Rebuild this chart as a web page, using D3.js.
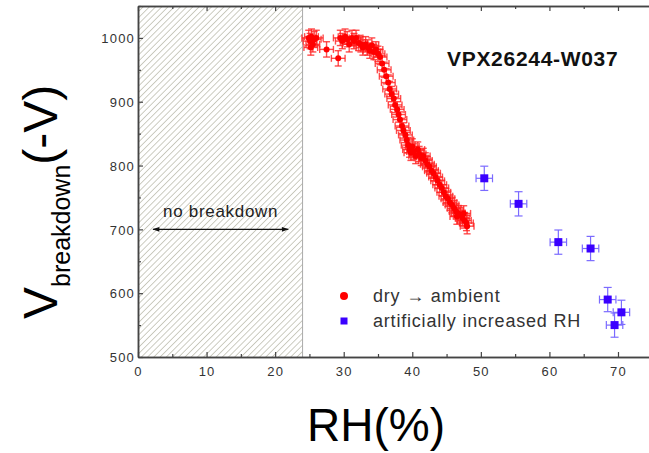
<!DOCTYPE html>
<html><head><meta charset="utf-8">
<script src="https://cdn.jsdelivr.net/npm/d3@7"></script>
<style>
html,body{margin:0;padding:0;background:#fff;}
svg{display:block;font-family:"Liberation Sans",Arial,sans-serif;}
</style></head>
<body>
<svg id="chart" width="649" height="453"></svg>
<script>
// ---- data ----
const xTicks = [0, 10, 20, 30, 40, 50, 60, 70];
const yTicks = [500, 600, 700, 800, 900, 1000];
const xMinorTicks = [5, 15, 25, 35, 45, 55, 65, 75];
const yMinorTicks = [550, 650, 750, 850, 950, 1050];

const redRH = [24.9,25.1,25.3,25.5,25.7,26.0,25.2,27.5,29.2,
  29.5,29.8,30.2,30.5,30.8,31.2,31.5,31.8,32.2,32.5,32.8,33.2,33.5,33.8,34.1,34.4,34.7,35.0,35.3,35.6,
  35.9,36.2,36.5,36.7,37.0,37.3,37.5,37.8,38.0,38.2,38.5,38.7,39.0,39.2,39.4,39.6,39.8,40.0,40.2,40.5,
  40.8,41.0,41.3,41.6,41.9,42.2,42.5,42.8,43.1,43.4,43.7,44.0,44.3,44.6,44.9,45.2,45.5,45.8,46.1,46.4,
  46.7,47.0,47.3,47.6,47.9,48.0,46.5,47.5];
const redV = [1000,995,1002,990,998,1000,985,982,968,
  1000,995,1002,998,990,1000,995,1000,992,990,985,990,985,980,988,978,982,975,970,960,
  950,940,930,920,912,905,895,888,880,872,862,855,848,840,832,825,820,830,822,815,
  825,818,812,815,808,802,798,792,788,782,776,770,765,758,752,748,742,738,733,728,
  725,722,718,714,710,705,720,725];
const redErrRH = 1.0, redErrV = 12;

const blueRH = [50.5, 55.5, 61.3, 66.0, 68.5, 70.5, 69.5];
const blueV  = [780, 740, 680, 670, 590, 570, 550];
const blueErrRH = 1.2, blueErrV = 19;

const hatchFrom = 0, hatchTo = 24;
const arrowFrom = 2.2, arrowTo = 21.9, arrowV = 700;

// ---- layout ----
const svg = d3.select("#chart");
const L = 138, T = 6, B = 357;
const x = d3.scaleLinear().domain([0, 75]).range([L, L + 75 * 6.857]);
const y = d3.scaleLinear().domain([500, 1050]).range([B, T]);

const defs = svg.append("defs");
const pat = defs.append("pattern").attr("id", "hatch").attr("patternUnits", "userSpaceOnUse")
  .attr("width", 4.4).attr("height", 4.4).attr("patternTransform", "rotate(45)");
pat.append("rect").attr("width", 4.4).attr("height", 4.4).attr("fill", "#fff");
pat.append("line").attr("x1", 0).attr("y1", 0).attr("x2", 0).attr("y2", 4.4)
  .attr("stroke", "#bcbcae").attr("stroke-width", 1.5);

defs.append("marker").attr("id", "ah").attr("viewBox", "0 0 10 10").attr("refX", 9).attr("refY", 5)
  .attr("markerWidth", 9).attr("markerHeight", 7).attr("markerUnits", "userSpaceOnUse")
  .attr("orient", "auto-start-reverse")
  .append("path").attr("d", "M0,1.5 L10,5 L0,8.5 Z").attr("fill", "#111");

// hatched region
svg.append("rect").attr("x", x(hatchFrom)).attr("y", y(1050))
  .attr("width", x(hatchTo) - x(hatchFrom)).attr("height", y(500) - y(1050))
  .attr("fill", "url(#hatch)");
svg.append("line").attr("x1", x(hatchTo)).attr("x2", x(hatchTo)).attr("y1", y(1050)).attr("y2", y(500))
  .attr("stroke", "#aaa").attr("stroke-width", 1);

// arrow + label
svg.append("line").attr("x1", x(arrowFrom)).attr("x2", x(arrowTo)).attr("y1", y(arrowV)).attr("y2", y(arrowV))
  .attr("stroke", "#111").attr("stroke-width", 1.4)
  .attr("marker-start", "url(#ah)").attr("marker-end", "url(#ah)");
svg.append("text").attr("x", (x(arrowFrom) + x(arrowTo)) / 2).attr("y", 217)
  .attr("text-anchor", "middle").attr("font-size", 17).attr("letter-spacing", 0.7)
  .attr("fill", "#222").text("no breakdown");

// axes
const axisColor = "#444";
function styleAxis(g) {
  g.select(".domain").attr("stroke", axisColor).attr("stroke-width", 1.5);
  g.selectAll(".tick line").attr("stroke", axisColor).attr("stroke-width", 1.2);
  g.selectAll(".tick text").attr("fill", "#333").attr("font-size", 13).attr("letter-spacing", 1.2)
    .attr("font-family", "Liberation Sans, Arial, sans-serif");
}
const fmt = d3.format("d");
const xb = svg.append("g").attr("transform", `translate(0,${B})`)
  .call(d3.axisBottom(x).tickValues(xTicks).tickFormat(fmt).tickSize(-5).tickPadding(10).tickSizeOuter(0));
styleAxis(xb);
const xbm = svg.append("g").attr("transform", `translate(0,${B})`)
  .call(d3.axisBottom(x).tickValues(xMinorTicks).tickSize(-3).tickFormat("").tickSizeOuter(0));
styleAxis(xbm);
const xt = svg.append("g").attr("transform", `translate(0,${T})`)
  .call(d3.axisTop(x).tickValues(xTicks).tickSize(-5).tickFormat("").tickSizeOuter(0));
styleAxis(xt);
const xtm = svg.append("g").attr("transform", `translate(0,${T})`)
  .call(d3.axisTop(x).tickValues(xMinorTicks).tickSize(-3).tickFormat("").tickSizeOuter(0));
styleAxis(xtm);
const yl = svg.append("g").attr("transform", `translate(${L},0)`)
  .call(d3.axisLeft(y).tickValues(yTicks).tickFormat(fmt).tickSize(-5).tickPadding(3).tickSizeOuter(0));
styleAxis(yl);
const ylm = svg.append("g").attr("transform", `translate(${L},0)`)
  .call(d3.axisLeft(y).tickValues(yMinorTicks).tickSize(-3).tickFormat("").tickSizeOuter(0));
styleAxis(ylm);
yl.selectAll(".tick text").attr("dy", "0.36em");

// title
svg.append("text").attr("x", 447).attr("y", 66).attr("font-size", 21).attr("font-weight", "bold")
  .attr("letter-spacing", 0.7).attr("fill", "#111").text("VPX26244-W037");

// red series
const red = redRH.map((d, i) => ({ rh: d, v: redV[i] }));
const rg = svg.append("g").attr("stroke", "#ff2020").attr("stroke-width", 1.4).attr("stroke-opacity", 0.8);
red.forEach(d => {
  rg.append("line").attr("x1", x(d.rh - redErrRH)).attr("x2", x(d.rh + redErrRH)).attr("y1", y(d.v)).attr("y2", y(d.v));
  rg.append("line").attr("x1", x(d.rh)).attr("x2", x(d.rh)).attr("y1", y(d.v - redErrV)).attr("y2", y(d.v + redErrV));
  [d.v - redErrV, d.v + redErrV].forEach(vv =>
    rg.append("line").attr("x1", x(d.rh) - 3.5).attr("x2", x(d.rh) + 3.5).attr("y1", y(vv)).attr("y2", y(vv)));
  [d.rh - redErrRH, d.rh + redErrRH].forEach(rr =>
    rg.append("line").attr("x1", x(rr)).attr("x2", x(rr)).attr("y1", y(d.v) - 3.5).attr("y2", y(d.v) + 3.5));
});
svg.append("g").selectAll("circle").data(red).join("circle")
  .attr("cx", d => x(d.rh)).attr("cy", d => y(d.v)).attr("r", 3).attr("fill", "#ff0000");

// blue series
const blue = blueRH.map((d, i) => ({ rh: d, v: blueV[i] }));
const bg = svg.append("g").attr("stroke", "#7b6bff").attr("stroke-width", 1.2);
blue.forEach(d => {
  bg.append("line").attr("x1", x(d.rh - blueErrRH)).attr("x2", x(d.rh + blueErrRH)).attr("y1", y(d.v)).attr("y2", y(d.v));
  bg.append("line").attr("x1", x(d.rh)).attr("x2", x(d.rh)).attr("y1", y(d.v - blueErrV)).attr("y2", y(d.v + blueErrV));
  [d.v - blueErrV, d.v + blueErrV].forEach(vv =>
    bg.append("line").attr("x1", x(d.rh) - 4).attr("x2", x(d.rh) + 4).attr("y1", y(vv)).attr("y2", y(vv)));
  [d.rh - blueErrRH, d.rh + blueErrRH].forEach(rr =>
    bg.append("line").attr("x1", x(rr)).attr("x2", x(rr)).attr("y1", y(d.v) - 4).attr("y2", y(d.v) + 4));
});
svg.append("g").selectAll("rect").data(blue).join("rect")
  .attr("x", d => x(d.rh) - 4).attr("y", d => y(d.v) - 4).attr("width", 8).attr("height", 8)
  .attr("fill", "#3a00ff");

// legend
svg.append("circle").attr("cx", 344).attr("cy", 296).attr("r", 4).attr("fill", "#ff0000");
svg.append("rect").attr("x", 340.5).attr("y", 317.5).attr("width", 7).attr("height", 7).attr("fill", "#3a00ff");
svg.append("text").attr("x", 373).attr("y", 302).attr("font-size", 18).attr("letter-spacing", 0.8)
  .attr("fill", "#333").text("dry \u2192 ambient");
svg.append("text").attr("x", 373).attr("y", 327).attr("font-size", 18).attr("letter-spacing", 0.8)
  .attr("fill", "#333").text("artificially increased RH");

// axis titles
svg.append("text").attr("x", 376).attr("y", 441).attr("text-anchor", "middle")
  .attr("font-size", 46).attr("fill", "#000").text("RH(%)");
const yt = svg.append("text").attr("transform", "translate(57,319) rotate(-90)").attr("fill", "#000");
yt.append("tspan").attr("font-size", 48).text("V");
yt.append("tspan").attr("font-size", 25).attr("dy", 13).text("breakdown");
yt.append("tspan").attr("font-size", 48).attr("dy", -13).text("(-V)");
</script>
</body></html>
